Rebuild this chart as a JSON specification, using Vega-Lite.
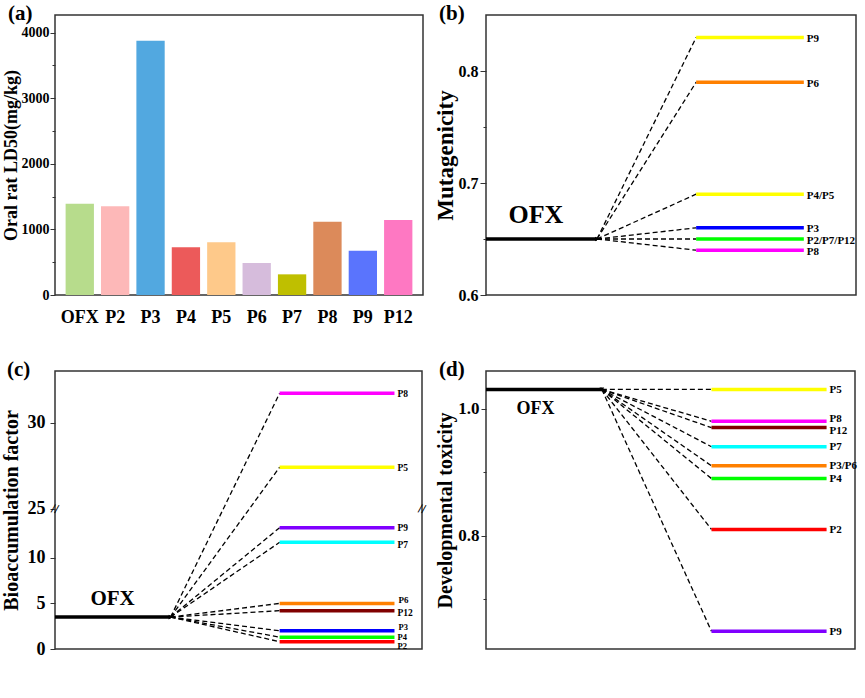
{
  "$schema": "https://vega.github.io/schema/vega-lite/v6.json",
  "padding": {"left": 0, "top": 2, "right": 5, "bottom": 5},
  "background": "white",
  "config": {
    "font": "Liberation Serif",
    "view": {"stroke": "#333", "strokeWidth": 1.5},
    "axis": {"labelFont": "Liberation Serif", "labelFontWeight": "bold", "titleFont": "Liberation Serif", "titleFontWeight": "bold", "labelColor": "#000", "titleColor": "#000", "tickColor": "#333", "domainColor": "#333", "grid": false, "labelOverlap": false, "labelFlush": false},
    "title": {"font": "Liberation Serif", "fontWeight": "bold", "fontSize": 21, "anchor": "start", "frame": "group", "color": "#000", "offset": 0, "baseline": "alphabetic"},
    "text": {"font": "Liberation Serif", "fontWeight": "bold", "color": "#000"}
  },
  "resolve": {"scale": {"color": "independent", "x": "independent", "y": "independent"}},
  "datasets": {
    "ld50": [
      {"compound": "OFX", "ld50": 1390},
      {"compound": "P2", "ld50": 1352},
      {"compound": "P3", "ld50": 3877},
      {"compound": "P4", "ld50": 727},
      {"compound": "P5", "ld50": 803},
      {"compound": "P6", "ld50": 488},
      {"compound": "P7", "ld50": 315},
      {"compound": "P8", "ld50": 1117},
      {"compound": "P9", "ld50": 675},
      {"compound": "P12", "ld50": 1143}
    ],
    "mut": [
      {"label": "OFX", "value": 0.65, "ofx": 0.65},
      {"label": "P9", "value": 0.83, "ofx": 0.65},
      {"label": "P6", "value": 0.79, "ofx": 0.65},
      {"label": "P4/P5", "value": 0.69, "ofx": 0.65},
      {"label": "P3", "value": 0.66, "ofx": 0.65},
      {"label": "P2/P7/P12", "value": 0.65, "ofx": 0.65},
      {"label": "P8", "value": 0.64, "ofx": 0.65}
    ],
    "bcf": [
      {"label": "OFX", "value": 3.5, "ofx": 3.5},
      {"label": "P8", "value": 31.7, "ofx": 3.5},
      {"label": "P5", "value": 27.4, "ofx": 3.5},
      {"label": "P9", "value": 13.3, "ofx": 3.5},
      {"label": "P7", "value": 11.7, "ofx": 3.5},
      {"label": "P6", "value": 5.0, "ofx": 3.5},
      {"label": "P12", "value": 4.2, "ofx": 3.5},
      {"label": "P3", "value": 2.0, "ofx": 3.5},
      {"label": "P4", "value": 1.3, "ofx": 3.5},
      {"label": "P2", "value": 0.8, "ofx": 3.5}
    ],
    "dev": [
      {"label": "OFX", "value": 1.03, "ofx": 1.03},
      {"label": "P5", "value": 1.03, "ofx": 1.03},
      {"label": "P8", "value": 0.98, "ofx": 1.03},
      {"label": "P12", "value": 0.97, "ofx": 1.03},
      {"label": "P7", "value": 0.94, "ofx": 1.03},
      {"label": "P3/P6", "value": 0.91, "ofx": 1.03},
      {"label": "P4", "value": 0.89, "ofx": 1.03},
      {"label": "P2", "value": 0.81, "ofx": 1.03},
      {"label": "P9", "value": 0.65, "ofx": 1.03}
    ]
  },
  "columns": 2,
  "bounds": "flush",
  "spacing": {"row": 76, "column": 63},
  "concat": [
    {
      "width": 368,
      "height": 280,
      "title": {"text": "(a)", "dx": -47, "dy": 13},
      "data": {"name": "ld50"},
      "mark": {"type": "bar"},
      "encoding": {
        "x": {"field": "compound", "type": "nominal", "sort": null,
              "scale": {"paddingInner": 0.2, "paddingOuter": 0.3},
              "axis": {"title": null, "labelAngle": 0, "labelFontSize": 18, "ticks": false, "domain": false, "labelPadding": 13}},
        "y": {"field": "ld50", "type": "quantitative",
              "scale": {"domain": [0, 4270], "nice": false},
              "axis": {"title": "Oral rat LD50(mg/kg)", "titleFontSize": 18, "titlePadding": 1, "labelFontSize": 14, "labelPadding": 1, "domain": false,
                       "values": [0, 500, 1000, 1500, 2000, 2500, 3000, 3500, 4000],
                       "labelExpr": "datum.value % 1000 === 0 ? datum.label : ''",
                       "format": "d",
                       "tickSize": {"condition": {"test": "datum.value % 1000 === 0", "value": 5}, "value": 3}}},
        "color": {"field": "compound", "type": "nominal", "legend": null,
                  "scale": {"domain": ["OFX", "P2", "P3", "P4", "P5", "P6", "P7", "P8", "P9", "P12"],
                            "range": ["#b7dc8c", "#fdb8b8", "#52a8e0", "#ec5a5a", "#fec98a", "#d6bcdc", "#bfbf00", "#dc8a5a", "#5a74fd", "#fe78c2"]}}
      }
    },
    {
      "width": 370,
      "height": 280,
      "title": {"text": "(b)", "dx": -47, "dy": 13},
      "data": {"name": "mut"},
      "layer": [
        {
          "transform": [{"filter": "datum.label === 'OFX'"}],
          "mark": {"type": "rule", "strokeWidth": 3.5, "color": "#000"},
          "encoding": {
            "x": {"datum": 0, "type": "quantitative", "scale": {"domain": [0, 1]}, "axis": null},
            "x2": {"datum": 0.3},
            "y": {"field": "value", "type": "quantitative",
                  "scale": {"domain": [0.6, 0.85], "nice": false, "zero": false},
                  "axis": {"title": "Mutagenicity", "titleFontSize": 23, "titlePadding": 1, "labelFontSize": 16, "labelPadding": 2, "domain": false,
                           "values": [0.6, 0.65, 0.7, 0.75, 0.8],
                           "labelExpr": "round(datum.value*100) % 10 === 0 ? format(datum.value, '.1f') : ''",
                           "tickSize": {"condition": {"test": "round(datum.value*100) % 10 === 0", "value": 6}, "value": 3}}}
          }
        },
        {
          "transform": [{"filter": "datum.label === 'OFX'"}],
          "mark": {"type": "point", "shape": "triangle-right", "filled": true, "size": 22, "color": "#000", "opacity": 1},
          "encoding": {"x": {"datum": 0.3, "type": "quantitative"}, "y": {"field": "value", "type": "quantitative"}}
        },
        {
          "transform": [{"filter": "datum.label !== 'OFX'"}],
          "mark": {"type": "rule", "strokeWidth": 1.3, "strokeDash": [5, 3], "color": "#000"},
          "encoding": {
            "x": {"datum": 0.3, "type": "quantitative"},
            "x2": {"datum": 0.568},
            "y": {"field": "ofx", "type": "quantitative"},
            "y2": {"field": "value"}
          }
        },
        {
          "transform": [{"filter": "datum.label !== 'OFX'"}],
          "mark": {"type": "rule", "strokeWidth": 3.5},
          "encoding": {
            "x": {"datum": 0.568, "type": "quantitative"},
            "x2": {"datum": 0.859},
            "y": {"field": "value", "type": "quantitative"},
            "color": {"field": "label", "type": "nominal", "legend": null,
                      "scale": {"domain": ["P9", "P6", "P4/P5", "P3", "P2/P7/P12", "P8"],
                                "range": ["#ffff00", "#ff8000", "#ffff00", "#0000ff", "#00ff00", "#ff00ff"]}}
          }
        },
        {
          "transform": [{"filter": "datum.label !== 'OFX'"}],
          "mark": {"type": "text", "align": "left", "baseline": "middle", "fontSize": 11, "dx": 3, "dy": 1.5},
          "encoding": {
            "x": {"datum": 0.859, "type": "quantitative"},
            "y": {"field": "value", "type": "quantitative"},
            "text": {"field": "label"}
          }
        },
        {
          "transform": [{"filter": "datum.label === 'OFX'"}],
          "mark": {"type": "text", "align": "center", "baseline": "middle", "fontSize": 26},
          "encoding": {
            "x": {"datum": 0.135, "type": "quantitative"},
            "y": {"datum": 0.671, "type": "quantitative"},
            "text": {"field": "label"}
          }
        }
      ]
    },
    {
      "width": 367,
      "height": 278,
      "title": {"text": "(c)", "dx": -48, "dy": 13},
      "data": {"name": "bcf"},
      "layer": [
        {
          "transform": [{"filter": "datum.label === 'OFX'"}],
          "mark": {"type": "rule", "strokeWidth": 3.5, "color": "#000"},
          "encoding": {
            "x": {"datum": 0, "type": "quantitative", "scale": {"domain": [0, 1]}, "axis": null},
            "x2": {"datum": 0.315},
            "y": {"field": "value", "type": "quantitative",
                  "scale": {"domain": [0, 15.3, 25, 33], "range": [278, 138.5, 137.5, 0], "nice": false, "zero": false},
                  "axis": {"title": "Bioaccumulation factor", "titleFontSize": 20, "titlePadding": 6, "labelFontSize": 18, "labelPadding": 5, "domain": false,
                           "values": [0, 5, 10, 25, 30], "tickSize": 5}}
          }
        },
        {
          "transform": [{"filter": "datum.label === 'OFX'"}],
          "mark": {"type": "point", "shape": "triangle-right", "filled": true, "size": 22, "color": "#000", "opacity": 1},
          "encoding": {"x": {"datum": 0.315, "type": "quantitative"}, "y": {"field": "value", "type": "quantitative"}}
        },
        {
          "transform": [{"filter": "datum.label !== 'OFX'"}],
          "mark": {"type": "rule", "strokeWidth": 1.3, "strokeDash": [5, 3], "color": "#000"},
          "encoding": {
            "x": {"datum": 0.315, "type": "quantitative"},
            "x2": {"datum": 0.612},
            "y": {"field": "ofx", "type": "quantitative"},
            "y2": {"field": "value"}
          }
        },
        {
          "transform": [{"filter": "datum.label !== 'OFX'"}],
          "mark": {"type": "rule", "strokeWidth": 3.5},
          "encoding": {
            "x": {"datum": 0.612, "type": "quantitative"},
            "x2": {"datum": 0.925},
            "y": {"field": "value", "type": "quantitative"},
            "color": {"field": "label", "type": "nominal", "legend": null,
                      "scale": {"domain": ["P8", "P5", "P9", "P7", "P6", "P12", "P3", "P4", "P2"],
                                "range": ["#ff00ff", "#ffff00", "#8000ff", "#00ffff", "#ff8000", "#800000", "#0000ff", "#00ff00", "#ff0000"]}}
          }
        },
        {
          "transform": [{"filter": "datum.label === 'P8' || datum.label === 'P5' || datum.label === 'P9'"}],
          "mark": {"type": "text", "align": "left", "baseline": "middle", "fontSize": 9.5, "dx": 3, "dy": 0.5},
          "encoding": {
            "x": {"datum": 0.925, "type": "quantitative"},
            "y": {"field": "value", "type": "quantitative"},
            "text": {"field": "label"}
          }
        },
        {
          "transform": [{"filter": "datum.label === 'P4'"}],
          "mark": {"type": "text", "align": "left", "baseline": "middle", "fontSize": 8.5, "dx": 3, "dy": -0.5},
          "encoding": {
            "x": {"datum": 0.925, "type": "quantitative"},
            "y": {"field": "value", "type": "quantitative"},
            "text": {"field": "label"}
          }
        },
        {
          "transform": [{"filter": "datum.label === 'P6'"}],
          "mark": {"type": "text", "align": "left", "baseline": "middle", "fontSize": 9, "dx": 4, "dy": -3},
          "encoding": {
            "x": {"datum": 0.925, "type": "quantitative"},
            "y": {"field": "value", "type": "quantitative"},
            "text": {"field": "label"}
          }
        },
        {
          "transform": [{"filter": "datum.label === 'P3'"}],
          "mark": {"type": "text", "align": "left", "baseline": "middle", "fontSize": 8.5, "dx": 4, "dy": -4},
          "encoding": {
            "x": {"datum": 0.925, "type": "quantitative"},
            "y": {"field": "value", "type": "quantitative"},
            "text": {"field": "label"}
          }
        },
        {
          "transform": [{"filter": "datum.label === 'P12' || datum.label === 'P7'"}],
          "mark": {"type": "text", "align": "left", "baseline": "middle", "fontSize": 9.5, "dx": 3, "dy": 2.5},
          "encoding": {
            "x": {"datum": 0.925, "type": "quantitative"},
            "y": {"field": "value", "type": "quantitative"},
            "text": {"field": "label"}
          }
        },
        {
          "transform": [{"filter": "datum.label === 'P2'"}],
          "mark": {"type": "text", "align": "left", "baseline": "middle", "fontSize": 8.5, "dx": 3, "dy": 4.5},
          "encoding": {
            "x": {"datum": 0.925, "type": "quantitative"},
            "y": {"field": "value", "type": "quantitative"},
            "text": {"field": "label"}
          }
        },
        {
          "transform": [{"filter": "datum.label === 'OFX'"}],
          "mark": {"type": "text", "align": "center", "baseline": "middle", "fontSize": 21},
          "encoding": {
            "x": {"datum": 0.157, "type": "quantitative"},
            "y": {"datum": 5.5, "type": "quantitative"},
            "text": {"field": "label"}
          }
        },
        {
          "transform": [{"filter": "datum.label === 'OFX'"}],
          "mark": {"type": "text", "align": "center", "baseline": "middle", "fontSize": 13, "text": "//", "angle": 10},
          "encoding": {
            "x": {"datum": 0, "type": "quantitative"},
            "y": {"datum": 20, "type": "quantitative"}
          }
        },
        {
          "transform": [{"filter": "datum.label === 'OFX'"}],
          "mark": {"type": "text", "align": "center", "baseline": "middle", "fontSize": 13, "text": "//", "angle": 10},
          "encoding": {
            "x": {"datum": 1, "type": "quantitative"},
            "y": {"datum": 20, "type": "quantitative"}
          }
        }
      ]
    },
    {
      "width": 369,
      "height": 278,
      "title": {"text": "(d)", "dx": -47, "dy": 13},
      "data": {"name": "dev"},
      "layer": [
        {
          "transform": [{"filter": "datum.label === 'OFX'"}],
          "mark": {"type": "rule", "strokeWidth": 3.5, "color": "#000"},
          "encoding": {
            "x": {"datum": 0, "type": "quantitative", "scale": {"domain": [0, 1]}, "axis": null},
            "x2": {"datum": 0.314},
            "y": {"field": "value", "type": "quantitative",
                  "scale": {"domain": [0.622, 1.059], "nice": false, "zero": false},
                  "axis": {"title": "Developmental toxicity", "titleFontSize": 20, "titlePadding": 2, "labelFontSize": 17, "labelPadding": 2, "domain": false,
                           "values": [0.7, 0.8, 0.9, 1.0],
                           "labelExpr": "round(datum.value*10) % 2 === 0 ? format(datum.value, '.1f') : ''",
                           "tickSize": {"condition": {"test": "round(datum.value*10) % 2 === 0", "value": 5}, "value": 3}}}
          }
        },
        {
          "transform": [{"filter": "datum.label === 'OFX'"}],
          "mark": {"type": "point", "shape": "triangle-down", "filled": true, "size": 22, "color": "#000", "opacity": 1},
          "encoding": {"x": {"datum": 0.314, "type": "quantitative"}, "y": {"field": "value", "type": "quantitative"}}
        },
        {
          "transform": [{"filter": "datum.label !== 'OFX'"}],
          "mark": {"type": "rule", "strokeWidth": 1.3, "strokeDash": [5, 3], "color": "#000"},
          "encoding": {
            "x": {"datum": 0.314, "type": "quantitative"},
            "x2": {"datum": 0.611},
            "y": {"field": "ofx", "type": "quantitative"},
            "y2": {"field": "value"}
          }
        },
        {
          "transform": [{"filter": "datum.label !== 'OFX'"}],
          "mark": {"type": "rule", "strokeWidth": 3.5},
          "encoding": {
            "x": {"datum": 0.611, "type": "quantitative"},
            "x2": {"datum": 0.923},
            "y": {"field": "value", "type": "quantitative"},
            "color": {"field": "label", "type": "nominal", "legend": null,
                      "scale": {"domain": ["P5", "P8", "P12", "P7", "P3/P6", "P4", "P2", "P9"],
                                "range": ["#ffff00", "#ff00ff", "#800000", "#00ffff", "#ff8000", "#00ff00", "#ff0000", "#8000ff"]}}
          }
        },
        {
          "transform": [{"filter": "datum.label !== 'OFX' && datum.label !== 'P8' && datum.label !== 'P12'"}],
          "mark": {"type": "text", "align": "left", "baseline": "middle", "fontSize": 11, "dx": 3, "dy": 0.5},
          "encoding": {
            "x": {"datum": 0.923, "type": "quantitative"},
            "y": {"field": "value", "type": "quantitative"},
            "text": {"field": "label"}
          }
        },
        {
          "transform": [{"filter": "datum.label === 'P8'"}],
          "mark": {"type": "text", "align": "left", "baseline": "middle", "fontSize": 11, "dx": 3, "dy": -2.5},
          "encoding": {
            "x": {"datum": 0.923, "type": "quantitative"},
            "y": {"field": "value", "type": "quantitative"},
            "text": {"field": "label"}
          }
        },
        {
          "transform": [{"filter": "datum.label === 'P12'"}],
          "mark": {"type": "text", "align": "left", "baseline": "middle", "fontSize": 11, "dx": 3, "dy": 3},
          "encoding": {
            "x": {"datum": 0.923, "type": "quantitative"},
            "y": {"field": "value", "type": "quantitative"},
            "text": {"field": "label"}
          }
        },
        {
          "transform": [{"filter": "datum.label === 'OFX'"}],
          "mark": {"type": "text", "align": "center", "baseline": "middle", "fontSize": 18},
          "encoding": {
            "x": {"datum": 0.134, "type": "quantitative"},
            "y": {"datum": 0.999, "type": "quantitative"},
            "text": {"field": "label"}
          }
        }
      ]
    }
  ]
}
